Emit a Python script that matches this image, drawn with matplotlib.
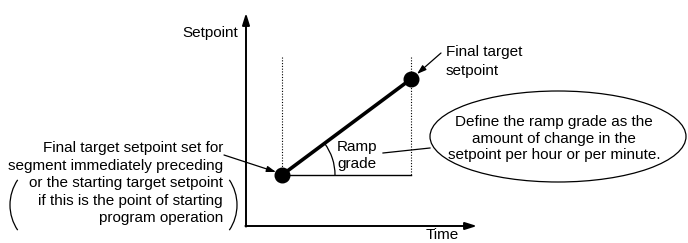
import numpy as np
import matplotlib
matplotlib.use("Agg")
import matplotlib.pyplot as plt
import matplotlib.patches as mpatches

plt.rcParams['font.family'] = ['Liberation Sans', 'DejaVu Sans']

# ramp segment: (time, setpoint) of start and end, in the diagram's own units
RAMP_TIME = [282, 411]
RAMP_SETPOINT = [175, 79]

AXIS_LABELS = ["Setpoint", "Time"]
LABEL_FINAL = ["Final target", "setpoint"]
LABEL_RAMP = ["Ramp", "grade"]
LABEL_START = ["Final target setpoint set for",
               "segment immediately preceding",
               "or the starting target setpoint",
               "if this is the point of starting",
               "program operation"]
LABEL_DEFINE = ["Define the ramp grade as the",
                "amount of change in the",
                "setpoint per hour or per minute."]

FS = 11.0

fig = plt.figure(figsize=(6.88, 2.43), dpi=100)
ax = fig.add_axes([0, 0, 1, 1])
ax.set_xlim(0, 688)
ax.set_ylim(243, 0)
ax.axis('off')

# ── axes with arrows ─────────────────────────────────────────────────────
x0, y0 = 246, 226
ax.annotate('', xy=(x0, 13), xytext=(x0, y0 + 0.6),
            arrowprops=dict(arrowstyle='-|>,head_length=0.7,head_width=0.22',
                            lw=1.4, color='black', shrinkA=0, shrinkB=0))
ax.annotate('', xy=(477, y0), xytext=(x0 - 0.6, y0),
            arrowprops=dict(arrowstyle='-|>,head_length=0.7,head_width=0.22',
                            lw=1.4, color='black', shrinkA=0, shrinkB=0))
ax.text(238, 33, AXIS_LABELS[0], ha='right', va='center', fontsize=FS)
ax.text(442, 235, AXIS_LABELS[1], ha='center', va='center', fontsize=FS)

# ── dotted guides, baseline, ramp ────────────────────────────────────────
for t in RAMP_TIME:
    ax.plot([t, t], [57, RAMP_SETPOINT[0]], color='black', lw=0.8,
            ls=(0, (1, 1.5)))
ax.plot(RAMP_TIME, [RAMP_SETPOINT[0]] * 2, color='black', lw=1.0)
ax.plot(RAMP_TIME, RAMP_SETPOINT, color='black', lw=2.6, solid_capstyle='butt')
ax.plot(RAMP_TIME, RAMP_SETPOINT, 'o', color='black', ms=10.5, zorder=5)

# ramp-grade arc
ang = np.degrees(np.arctan2(RAMP_SETPOINT[1] - RAMP_SETPOINT[0],
                            RAMP_TIME[1] - RAMP_TIME[0]))
ax.add_patch(mpatches.Arc((RAMP_TIME[0], RAMP_SETPOINT[0]), 106, 106,
                          theta1=ang, theta2=0, lw=0.9, color='black'))
for i, s in enumerate(LABEL_RAMP):
    ax.text(337, 147 + i * 16.5, s, ha='left', va='center', fontsize=FS)

# ── final target label ───────────────────────────────────────────────────
for i, s in enumerate(LABEL_FINAL):
    ax.text(446, 52 + i * 19, s, ha='left', va='center', fontsize=FS)
ax.annotate('', xy=(417, 74), xytext=(441, 53),
            arrowprops=dict(arrowstyle='-|>,head_length=0.55,head_width=0.18',
                            lw=0.9, color='black', shrinkA=0, shrinkB=0))

# ── start point label ────────────────────────────────────────────────────
for i, s in enumerate(LABEL_START):
    ax.text(223, 148 + i * 17.5, s, ha='right', va='center', fontsize=FS)
ax.annotate('', xy=(276, 172), xytext=(224, 155),
            arrowprops=dict(arrowstyle='-|>,head_length=0.55,head_width=0.18',
                            lw=0.9, color='black', shrinkA=0, shrinkB=0))
ax.add_patch(mpatches.Arc((55, 205), 90, 90, theta1=146, theta2=214,
                          lw=0.9, color='black'))
ax.add_patch(mpatches.Arc((192, 205), 90, 90, theta1=-34, theta2=34,
                          lw=0.9, color='black'))

# ── definition bubble ────────────────────────────────────────────────────
ax.add_patch(mpatches.Ellipse((558, 136.5), 256, 91, fill=False,
                              lw=0.9, color='black'))
for i, s in enumerate(LABEL_DEFINE):
    ax.text(554, 122 + i * 16.5, s, ha='center', va='center', fontsize=FS)
ax.plot([383, 430], [153, 148], color='black', lw=0.9)

fig.savefig('out.png', dpi=100)
